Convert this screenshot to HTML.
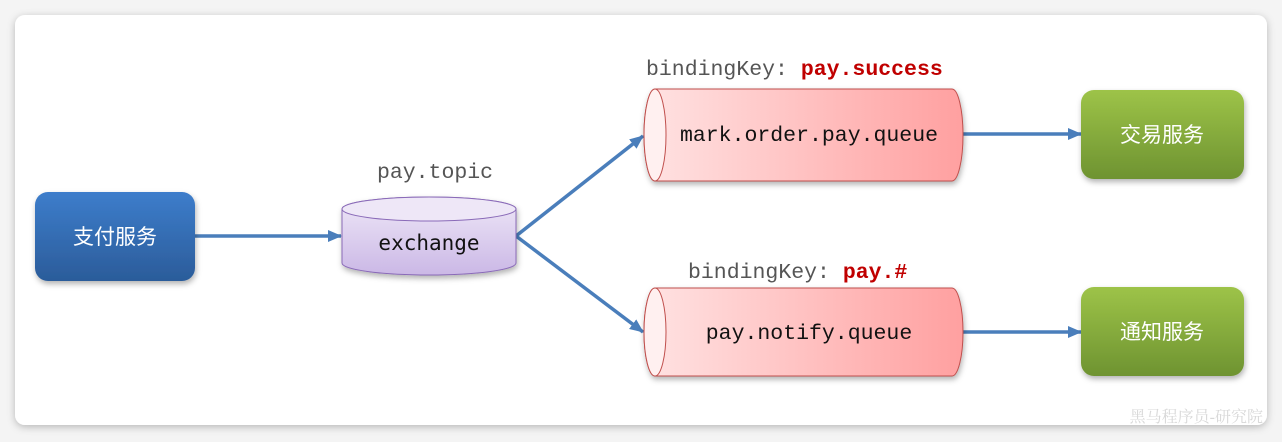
<!DOCTYPE html>
<html><head><meta charset="utf-8"><style>
html,body{margin:0;padding:0;background:#f4f4f4;}
svg{display:block;}
.mono{font-family:"Liberation Mono",monospace;font-size:21.5px;}
.cjk{font-family:"Liberation Sans","Noto Sans CJK SC",sans-serif;font-size:21px;fill:#fff;}
</style></head><body>
<svg width="1282" height="442" viewBox="0 0 1282 442" xmlns="http://www.w3.org/2000/svg">
<defs>
<filter id="sh" x="-10%" y="-10%" width="120%" height="130%"><feDropShadow dx="1" dy="3" stdDeviation="3" flood-color="#000" flood-opacity="0.3"/></filter>
<filter id="csh" x="-5%" y="-5%" width="110%" height="115%"><feDropShadow dx="0" dy="2" stdDeviation="4" flood-color="#000" flood-opacity="0.25"/></filter>
<linearGradient id="blue" x1="0" y1="0" x2="0" y2="1"><stop offset="0" stop-color="#3d7dcb"/><stop offset="1" stop-color="#2b5c9a"/></linearGradient>
<linearGradient id="green" x1="0" y1="0" x2="0" y2="1"><stop offset="0" stop-color="#9dc348"/><stop offset="1" stop-color="#6e9331"/></linearGradient>
<linearGradient id="purple" x1="0" y1="0" x2="0" y2="1"><stop offset="0" stop-color="#eee7f7"/><stop offset="1" stop-color="#cbb8e6"/></linearGradient>
<linearGradient id="red" x1="0" y1="0" x2="1" y2="0"><stop offset="0" stop-color="#ffe3e3"/><stop offset="1" stop-color="#ffa0a0"/></linearGradient>
<marker id="ar" markerWidth="14" markerHeight="12" refX="13" refY="6" orient="auto" markerUnits="userSpaceOnUse"><path d="M0,0 L14,6 L0,12 z" fill="#4a7ebb"/></marker>
</defs>
<rect x="15" y="15" width="1252" height="410" rx="10" fill="#fff" filter="url(#csh)"/>
<text x="1263" y="422" text-anchor="end" font-family="Liberation Serif,'Noto Serif CJK SC',serif" font-size="16" fill="#d8d8d8">黑马程序员-研究院</text>

<g stroke="#4a7ebb" stroke-width="3.5" fill="none">
<line x1="195" y1="236" x2="341" y2="236" marker-end="url(#ar)"/>
<line x1="516" y1="236" x2="643" y2="136" marker-end="url(#ar)"/>
<line x1="516" y1="236" x2="643" y2="332" marker-end="url(#ar)"/>
<line x1="963" y1="134" x2="1081" y2="134" marker-end="url(#ar)"/>
<line x1="963" y1="332" x2="1081" y2="332" marker-end="url(#ar)"/>
</g>

<rect x="35" y="192" width="160" height="89" rx="13" fill="url(#blue)" filter="url(#sh)"/>
<text x="115" y="244" text-anchor="middle" class="cjk">支付服务</text>

<g filter="url(#sh)">
<path d="M342,209 L342,263 A87,12 0 0 0 516,263 L516,209 A87,12 0 0 0 342,209 Z" fill="url(#purple)" stroke="#8a6bb8" stroke-width="1"/>
<ellipse cx="429" cy="209" rx="87" ry="12" fill="#eee7f7" stroke="#8a6bb8" stroke-width="1"/>
</g>
<text x="429" y="250" text-anchor="middle" font-family="'DejaVu Sans Mono',monospace" font-size="21" fill="#111">exchange</text>
<text x="435" y="178" text-anchor="middle" class="mono" fill="#555">pay.topic</text>

<g filter="url(#sh)">
<path d="M655,89 L952,89 A11,46 0 0 1 952,181 L655,181 A11,46 0 0 1 655,89 Z" fill="url(#red)" stroke="#c0504d" stroke-width="1"/>
<ellipse cx="655" cy="135" rx="11" ry="46" fill="#fff0f0" stroke="#c0504d" stroke-width="1"/>
</g>
<text x="809" y="141" text-anchor="middle" class="mono" fill="#111">mark.order.pay.queue</text>
<text x="646" y="75" class="mono" fill="#555">bindingKey: <tspan fill="#c00000" font-weight="bold">pay.success</tspan></text>

<g filter="url(#sh)">
<path d="M655,288 L952,288 A11,44 0 0 1 952,376 L655,376 A11,44 0 0 1 655,288 Z" fill="url(#red)" stroke="#c0504d" stroke-width="1"/>
<ellipse cx="655" cy="332" rx="11" ry="44" fill="#fff0f0" stroke="#c0504d" stroke-width="1"/>
</g>
<text x="809" y="339" text-anchor="middle" class="mono" fill="#111">pay.notify.queue</text>
<text x="688" y="278" class="mono" fill="#555">bindingKey: <tspan fill="#c00000" font-weight="bold">pay.#</tspan></text>

<rect x="1081" y="90" width="163" height="89" rx="13" fill="url(#green)" filter="url(#sh)"/>
<text x="1162" y="142" text-anchor="middle" class="cjk">交易服务</text>
<rect x="1081" y="287" width="163" height="89" rx="13" fill="url(#green)" filter="url(#sh)"/>
<text x="1162" y="339" text-anchor="middle" class="cjk">通知服务</text>
</svg>
</body></html>
